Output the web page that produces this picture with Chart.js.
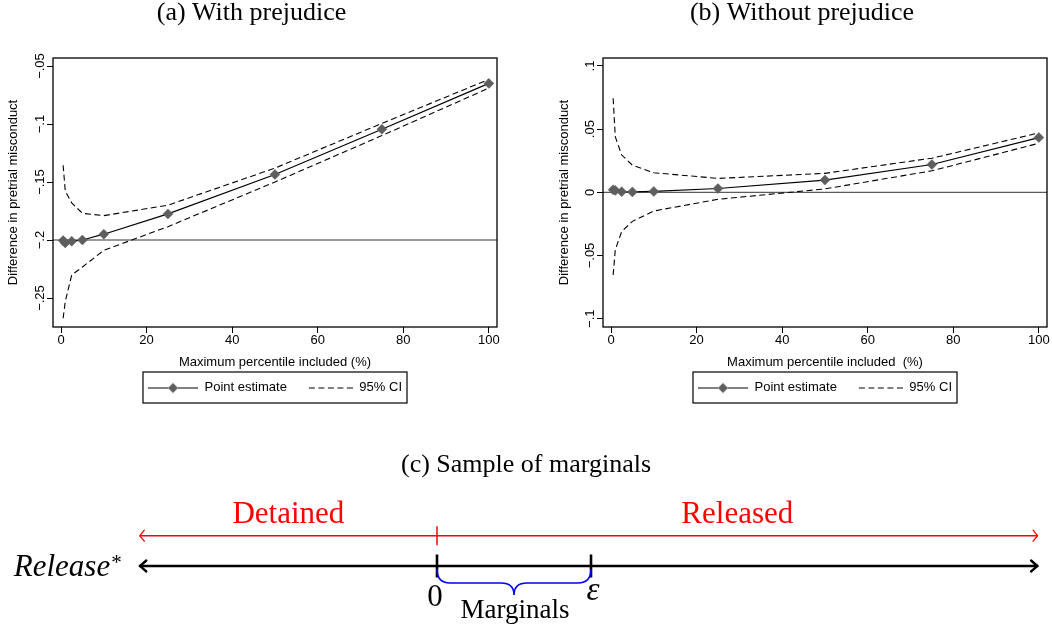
<!DOCTYPE html>
<html><head><meta charset="utf-8">
<script src="https://cdn.jsdelivr.net/npm/chart.js@4.4.0/dist/chart.umd.min.js"></script>
<style>
html,body{margin:0;padding:0;background:#fff;}
body{width:1052px;height:628px;position:relative;overflow:hidden;}
canvas{position:absolute;}
#ca{left:0;top:0;} #cb{left:550px;top:0;} #cc{left:0;top:420px;}
</style></head><body>
<canvas id="ca" width="503" height="410"></canvas>
<canvas id="cb" width="502" height="410"></canvas>
<canvas id="cc" width="1052" height="208"></canvas>
<script>
// ---------- data ----------
const pctIncluded = [0.5, 1, 2.5, 5, 10, 25, 50, 75, 100];

const estimateWith = [-0.2005, -0.2025, -0.201, -0.2, -0.195, -0.1775, -0.1435, -0.1045, -0.065];
const upperWith    = [-0.1355, -0.158, -0.168, -0.177, -0.179, -0.170, -0.138, -0.0995, -0.0615];
const lowerWith    = [-0.2675, -0.253, -0.2302, -0.2233, -0.2089, -0.1885, -0.150, -0.110, -0.069];

const estimateWithout = [0.002, 0.0015, 0.0005, 0.0003, 0.0007, 0.003, 0.0097, 0.022, 0.0433];
const upperWithout    = [0.0745, 0.044, 0.0295, 0.0215, 0.0155, 0.011, 0.015, 0.027, 0.047];
const lowerWithout    = [-0.0655, -0.0455, -0.031, -0.023, -0.0148, -0.0055, 0.0027, 0.017, 0.0388];

const refLineWith = -0.2;
const refLineWithout = 0;

const xRange = [-1.87, 101.9];
const yRangeWith = [-0.275, -0.0431];
const yRangeWithout = [-0.1066, 0.1063];

const xTickValues = [0, 20, 40, 60, 80, 100];
const xTickLabels = ['0', '20', '40', '60', '80', '100'];
const yTickValuesWith = [-0.25, -0.2, -0.15, -0.1, -0.05];
const yTickLabelsWith = ['\u2212.25', '\u2212.2', '\u2212.15', '\u2212.1', '\u2212.05'];
const yTickValuesWithout = [-0.1, -0.05, 0, 0.05, 0.1];
const yTickLabelsWithout = ['\u2212.1', '\u2212.05', '0', '.05', '.1'];

const legendLabels = ['Point estimate', '95% CI'];

// panel (c) schematic
const thresholdValue = 0;
const epsilonValue = 1;
const latentAxisExtent = [-1.93, 3.90];
const rowDecision = 1;
const rowLatent = 0;
const decisionLabels = ['Detained', 'Released'];
const latentLabel = 'Release';
const markLabels = ['0', '\u03B5'];
const bandLabel = 'Marginals';

// ---------- styles ----------
const SANS = "'Liberation Sans', Arial, Helvetica, sans-serif";
const SERIF = "'Liberation Serif', 'Times New Roman', serif";
const MARKER = '#5e5e5e';
const RED = '#ff0000';
const BLUE = '#0000ff';
Chart.defaults.font.family = SANS;
Chart.defaults.color = '#000';

function toXY(arr){ return pctIncluded.map((x, i) => ({x: x, y: arr[i]})); }

function legendSymbol(kind){
  const c = document.createElement('canvas'); c.width = 50; c.height = 14;
  const g = c.getContext('2d');
  g.strokeStyle = '#000';
  if (kind === 'pe') {
    g.lineWidth = 1; g.beginPath(); g.moveTo(0, 7.5); g.lineTo(50, 7.5); g.stroke();
    g.fillStyle = MARKER; g.beginPath();
    g.moveTo(20, 7.5); g.lineTo(25, 2.5); g.lineTo(30, 7.5); g.lineTo(25, 12.5); g.closePath(); g.fill();
  } else {
    g.lineWidth = 1; g.setLineDash([6, 3.5]); g.beginPath(); g.moveTo(6, 7.5); g.lineTo(50, 7.5); g.stroke();
  }
  return c;
}
const symPE = legendSymbol('pe');
const symCI = legendSymbol('ci');

const rotatedYTicks = {
  id: 'rotatedYTicks',
  afterDraw(chart, args, opts){
    const s = chart.scales.y, ctx = chart.ctx;
    ctx.save();
    ctx.fillStyle = '#000'; ctx.font = '13px ' + SANS;
    ctx.textAlign = 'center'; ctx.textBaseline = 'middle';
    s.ticks.forEach(t => {
      const idx = opts.values.indexOf(t.value);
      if (idx < 0) return;
      const py = s.getPixelForValue(t.value);
      ctx.save(); ctx.translate(chart.chartArea.left - 13, py); ctx.rotate(-Math.PI / 2);
      ctx.fillText(opts.labels[idx], 0, 0); ctx.restore();
    });
    ctx.restore();
  }
};
const plotFrame = {
  id: 'plotFrame',
  afterDatasetsDraw(chart){
    const {left, right, top, bottom} = chart.chartArea, ctx = chart.ctx;
    ctx.save(); ctx.strokeStyle = '#000'; ctx.lineWidth = 1.3;
    ctx.strokeRect(left, top, right - left, bottom - top); ctx.restore();
  }
};
const legendFrame = {
  id: 'legendFrame',
  afterDraw(chart){
    const hb = chart.legend && chart.legend.legendHitBoxes;
    if (!hb || !hb.length) return;
    const last = hb[hb.length - 1];
    const l = hb[0].left - 5, r = last.left + last.width + 5;
    const cy = hb[0].top + hb[0].height / 2;
    const ctx = chart.ctx;
    ctx.save(); ctx.strokeStyle = '#000'; ctx.lineWidth = 1.2;
    ctx.strokeRect(l, cy - 15.5, r - l, 31); ctx.restore();
  }
};

function panel(id, cfg){
  return new Chart(document.getElementById(id), {
    type: 'line',
    data: {datasets: [
      {label: legendLabels[0], data: toXY(cfg.est), borderColor: '#000', borderWidth: 1.2, tension: 0,
       pointStyle: 'rectRot', pointRadius: 5, pointHoverRadius: 5, pointBackgroundColor: MARKER,
       pointBorderColor: MARKER, pointBorderWidth: 0.5},
      {label: legendLabels[1], data: toXY(cfg.up), borderColor: '#000', borderWidth: 1.1, borderDash: [6, 3.5], pointRadius: 0, tension: 0},
      {label: legendLabels[1] + ' lower', data: toXY(cfg.lo), borderColor: '#000', borderWidth: 1.1, borderDash: [6, 3.5], pointRadius: 0, tension: 0},
      {label: 'reference', data: [{x: xRange[0], y: cfg.ref}, {x: xRange[1], y: cfg.ref}], borderColor: '#333', borderWidth: 1, pointRadius: 0}
    ]},
    options: {
      responsive: false, animation: false, devicePixelRatio: 1, events: [],
      layout: {autoPadding: false, padding: {left: cfg.padL, right: cfg.padR, top: 0, bottom: 6}},
      scales: {
        x: {type: 'linear', min: xRange[0], max: xRange[1],
            afterBuildTicks: a => { a.ticks = xTickValues.map(v => ({value: v})); },
            afterFit: s => { s.height = 38; },
            ticks: {autoSkip: false, maxRotation: 0, minRotation: 0, padding: 0, color: '#000', font: {size: 13},
                    callback: v => xTickLabels[xTickValues.indexOf(v)]},
            grid: {drawOnChartArea: false, drawTicks: true, tickLength: 6, color: '#000', tickColor: '#000', lineWidth: 1},
            border: {display: false},
            title: {display: true, text: cfg.xTitle, color: '#000', font: {size: 13}, padding: {top: 0, bottom: -4.8}}},
        y: {type: 'linear', min: cfg.yRange[0], max: cfg.yRange[1],
            afterBuildTicks: a => { a.ticks = cfg.yVals.map(v => ({value: v})); },
            afterFit: s => { s.width = cfg.yAxisW; },
            ticks: {display: false},
            grid: {drawOnChartArea: false, drawTicks: true, tickLength: 6, color: '#000', tickColor: '#000', lineWidth: 1},
            border: {display: false},
            title: {display: true, text: 'Difference in pretrial misconduct', color: '#000', font: {size: 13}, padding: {top: 0, bottom: 0}}}
      },
      plugins: {
        title: {display: true, text: cfg.title, color: '#000', font: {family: SERIF, size: 26, weight: 'normal', lineHeight: 1},
                padding: {top: 0, bottom: 32}},
        legend: {display: true, position: 'bottom', fullSize: false,
                 labels: {usePointStyle: true, pointStyleWidth: 50, padding: 16, color: '#000', font: {size: 13},
                          generateLabels: () => [
                            {text: legendLabels[0], pointStyle: symPE, fillStyle: '#000', strokeStyle: '#000', lineWidth: 1, hidden: false, datasetIndex: 0, fontColor: '#000'},
                            {text: legendLabels[1], pointStyle: symCI, fillStyle: '#000', strokeStyle: '#000', lineWidth: 1, hidden: false, datasetIndex: 1, fontColor: '#000'}
                          ]}},
        tooltip: {enabled: false},
        rotatedYTicks: {values: cfg.yVals, labels: cfg.yLabels}
      }
    },
    plugins: [rotatedYTicks, plotFrame, legendFrame]
  });
}

panel('ca', {est: estimateWith, up: upperWith, lo: lowerWith, ref: refLineWith, yRange: yRangeWith,
  yVals: yTickValuesWith, yLabels: yTickLabelsWith, title: '(a) With prejudice',
  xTitle: 'Maximum percentile included (%)', padL: 6, padR: 6, yAxisW: 47});
panel('cb', {est: estimateWithout, up: upperWithout, lo: lowerWithout, ref: refLineWithout, yRange: yRangeWithout,
  yVals: yTickValuesWithout, yLabels: yTickLabelsWithout, title: '(b) Without prejudice',
  xTitle: 'Maximum percentile included  (%)', padL: 7, padR: 5, yAxisW: 46});

// ---------- panel (c) ----------
function chevron(ctx, tipX, tipY, dir, back, half, width, color){
  ctx.save(); ctx.strokeStyle = color; ctx.lineWidth = width; ctx.lineCap = 'round'; ctx.lineJoin = 'round';
  ctx.beginPath();
  ctx.moveTo(tipX - dir * back, tipY - half);
  ctx.quadraticCurveTo(tipX - dir * back * 0.2, tipY - half * 0.15, tipX, tipY);
  ctx.quadraticCurveTo(tipX - dir * back * 0.2, tipY + half * 0.15, tipX - dir * back, tipY + half);
  ctx.stroke(); ctx.restore();
}
const diagramDecor = {
  id: 'diagramDecor',
  afterDatasetsDraw(chart){
    const ctx = chart.ctx, xs = chart.scales.x, ys = chart.scales.y;
    const xL = xs.getPixelForValue(latentAxisExtent[0]), xR = xs.getPixelForValue(latentAxisExtent[1]);
    const x0 = xs.getPixelForValue(thresholdValue), x1 = xs.getPixelForValue(epsilonValue);
    const yA = ys.getPixelForValue(rowDecision), yL = ys.getPixelForValue(rowLatent);
    chevron(ctx, xL, yA, -1, 4.5, 5.5, 1.3, RED);
    chevron(ctx, xR, yA, 1, 4.5, 5.5, 1.3, RED);
    chevron(ctx, xL, yL, -1, 6.5, 5.5, 2.4, '#000');
    chevron(ctx, xR, yL, 1, 6.5, 5.5, 2.4, '#000');
    // brace
    const top = yL + 3, mid = yL + 17, tip = yL + 29, xm = (x0 + x1) / 2, r = 13;
    ctx.save(); ctx.strokeStyle = BLUE; ctx.lineWidth = 1.6; ctx.beginPath();
    ctx.moveTo(x0, top); ctx.quadraticCurveTo(x0, mid, x0 + r, mid); ctx.lineTo(xm - r, mid);
    ctx.quadraticCurveTo(xm, mid, xm, tip); ctx.quadraticCurveTo(xm, mid, xm + r, mid);
    ctx.lineTo(x1 - r, mid); ctx.quadraticCurveTo(x1, mid, x1, top); ctx.stroke(); ctx.restore();
    // texts
    ctx.save(); ctx.textBaseline = 'alphabetic';
    ctx.font = '31px ' + SERIF; ctx.fillStyle = RED; ctx.textAlign = 'center';
    ctx.fillText(decisionLabels[0], (xL + x0) / 2, yA - 13);
    ctx.fillText(decisionLabels[1], (x0 + xR) / 2, yA - 13);
    ctx.fillStyle = '#000';
    ctx.font = 'italic 31px ' + SERIF; ctx.textAlign = 'left';
    const lx = xL - 126;
    ctx.fillText(latentLabel, lx, yL + 10);
    const lw = ctx.measureText(latentLabel).width;
    ctx.font = '21px ' + SERIF; ctx.fillText('*', lx + lw + 1, yL + 3);
    ctx.textAlign = 'center';
    ctx.font = '31px ' + SERIF; ctx.fillText(markLabels[0], x0 - 2, yL + 40);
    ctx.font = 'italic 33px ' + SERIF; ctx.fillText(markLabels[1], x1 + 2, yL + 34);
    ctx.font = '27px ' + SERIF; ctx.fillText(bandLabel, xm + 1, yL + 52);
    ctx.restore();
  }
};

new Chart(document.getElementById('cc'), {
  type: 'scatter',
  data: {datasets: [
    {data: [{x: latentAxisExtent[0], y: rowDecision}, {x: latentAxisExtent[1], y: rowDecision}], showLine: true,
     borderColor: RED, borderWidth: 1.5, pointRadius: 0},
    {data: [{x: latentAxisExtent[0], y: rowLatent}, {x: latentAxisExtent[1], y: rowLatent}], showLine: true,
     borderColor: '#000', borderWidth: 2.6, pointRadius: 0},
    {data: [{x: thresholdValue, y: rowDecision}], showLine: false, pointStyle: 'line', pointRotation: 90,
     pointRadius: 9.5, pointBorderColor: RED, pointBorderWidth: 1.5},
    {data: [{x: thresholdValue, y: rowLatent}, {x: epsilonValue, y: rowLatent}], showLine: false, pointStyle: 'line', pointRotation: 90,
     pointRadius: 11.5, pointBorderColor: '#000', pointBorderWidth: 2.6}
  ]},
  options: {
    responsive: false, animation: false, devicePixelRatio: 1, events: [],
    layout: {autoPadding: false, padding: 0},
    scales: {
      x: {type: 'linear', display: false, min: -2.8377, max: 3.9935},
      y: {type: 'linear', display: false, min: -2.046, max: 2.970}
    },
    plugins: {
      legend: {display: false}, tooltip: {enabled: false},
      title: {display: true, text: '(c) Sample of marginals', color: '#000',
              font: {family: SERIF, size: 26, weight: 'normal', lineHeight: 1}, padding: {top: 32, bottom: -2}}
    }
  },
  plugins: [diagramDecor]
});
</script>
</body></html>
